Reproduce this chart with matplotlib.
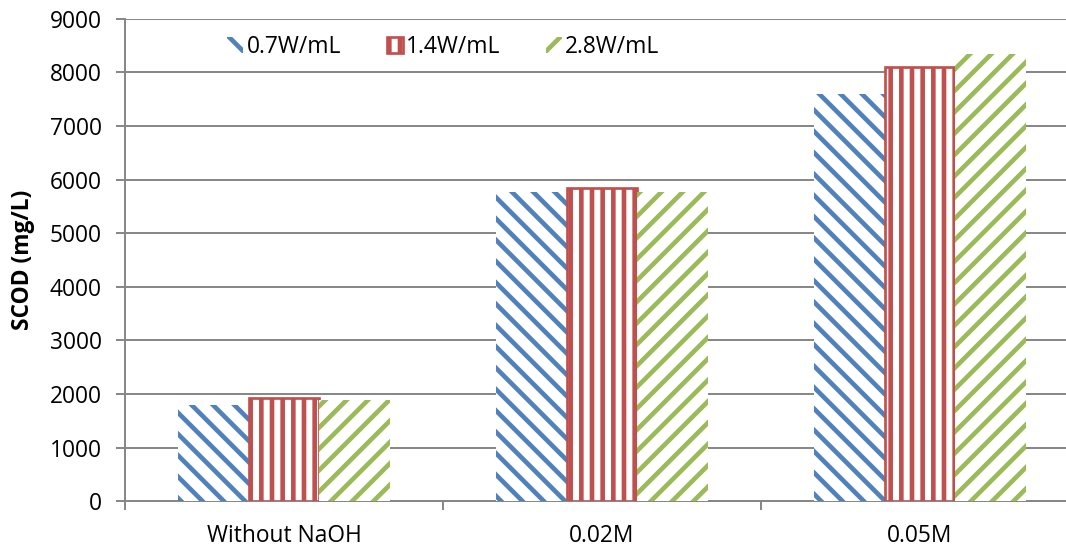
import numpy as np
import matplotlib.pyplot as plt
from matplotlib.patches import Patch

# SCOD after treatment at three power densities
categories = ['Without NaOH', '0.02M', '0.05M']
series_names = ['0.7W/mL', '1.4W/mL', '2.8W/mL']
scod_07 = [1800, 5770, 7600]
scod_14 = [1920, 5840, 8100]
scod_28 = [1890, 5760, 8350]

colors = ['#4F81BD', '#C0504D', '#9BBB59']
hatches = ['\\\\', '||', '//']

plt.rcParams['font.family'] = ['Open Sans', 'DejaVu Sans']
plt.rcParams['hatch.linewidth'] = 2.6

dpi = 128
fig = plt.figure(figsize=(1066 / dpi, 548 / dpi), dpi=dpi)
# plot area runs past the right edge of the figure
ax = fig.add_axes([125 / 1066, 46.7 / 548, 954 / 1066, 482.6 / 548])

x = np.arange(len(categories))
w = 1 / 4.5
for i, vals in enumerate([scod_07, scod_14, scod_28]):
    lw = 1.5 if i == 1 else 0
    ax.bar(x + (i - 1) * w, vals, width=w, color='white', edgecolor=colors[i],
           hatch=hatches[i], linewidth=lw, zorder=3)

ax.set_xlim(-0.5, 2.5)
ax.set_ylim(0, 9000)
ax.set_yticks(np.arange(0, 9001, 1000))
ax.yaxis.grid(True, color='#868686', linewidth=1.1, zorder=0)

ax.set_xticks(x)
ax.set_xticklabels(categories)
ax.set_xticks([-0.5, 0.5, 1.5, 2.5], minor=True)
ax.tick_params(axis='x', which='major', length=0, pad=13, labelsize=12.8)
ax.tick_params(axis='x', which='minor', length=5, color='#868686', width=1.1)
ax.tick_params(axis='y', length=5, color='#868686', width=1.1, labelsize=12.8, pad=8)

for side in ['top', 'right']:
    ax.spines[side].set_visible(False)
for side in ['left', 'bottom']:
    ax.spines[side].set_color('#868686')
    ax.spines[side].set_linewidth(1.1)

ax.set_ylabel('SCOD (mg/L)', fontweight='bold', fontsize=12.8, labelpad=8.5)

handles = [Patch(facecolor='white', edgecolor=colors[i], hatch=hatches[i],
                 linewidth=(1.5 if i == 1 else 0)) for i in range(3)]
ax.legend(handles, series_names, loc='center left', bbox_to_anchor=(207 / 1066, 1 - 47 / 548),
          bbox_transform=fig.transFigure, ncol=3, frameon=False, fontsize=12.8,
          handlelength=0.7, handleheight=0.7, handletextpad=0.15, columnspacing=2.0)

fig.savefig('out.png', dpi=dpi)
